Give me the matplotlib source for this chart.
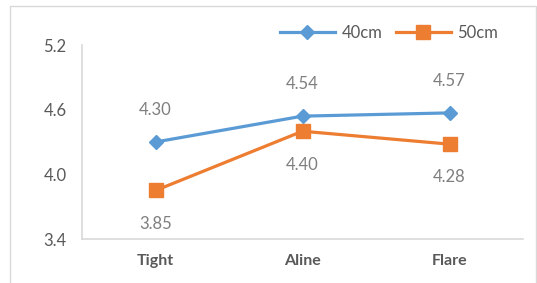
import matplotlib
matplotlib.use("Agg")
import matplotlib.pyplot as plt
from matplotlib.patches import Rectangle

categories = ["Tight", "Aline", "Flare"]
series_40 = [4.30, 4.54, 4.57]
series_50 = [3.85, 4.40, 4.28]
yticks = [3.4, 4.0, 4.6, 5.2]

plt.rcParams['font.family'] = ['Lato', 'DejaVu Sans']

W, H = 537, 283
fig = plt.figure(figsize=(W / 100, H / 100), dpi=100)
fig.patches.append(Rectangle((10 / W, -0.01), (536 - 10) / W, (H - 6) / H + 0.01,
                             transform=fig.transFigure, fill=False,
                             edgecolor="#d9d9d9", linewidth=1.0))

ax = fig.add_axes([82 / W, 44 / H, (523 - 82) / W, (239 - 45) / H])
x = range(len(categories))
blue = "#5B9BD5"
orange = "#ED7D31"
ax.plot(x, series_40, color=blue, linewidth=2.3, marker="D", markersize=7.5, label="40cm")
ax.plot(x, series_50, color=orange, linewidth=2.3, marker="s", markersize=9.5, label="50cm")

for xi, v in zip(x, series_40):
    ax.annotate(f"{v:.2f}", (xi, v), xytext=(0, 23), textcoords="offset points",
                ha="center", va="center", fontsize=12, color="#7f7f7f")
for xi, v in zip(x, series_50):
    ax.annotate(f"{v:.2f}", (xi, v), xytext=(0, -24), textcoords="offset points",
                ha="center", va="center", fontsize=12, color="#7f7f7f")

ax.set_xlim(-0.5, 2.5)
ax.set_ylim(3.4, 5.2)
ax.set_yticks(yticks)
ax.set_yticklabels([f"{t:.1f}" for t in yticks])
ax.set_xticks(list(x))
ax.set_xticklabels(categories)
ax.tick_params(axis="both", length=0, labelsize=12, colors="#595959")
ax.tick_params(axis="y", pad=11)
ax.tick_params(axis="x", pad=11)
for lab in ax.get_xticklabels():
    lab.set_fontweight("bold")
    lab.set_fontsize(11.5)
    lab.set_color("#595959")
for s in ["top", "right"]:
    ax.spines[s].set_visible(False)
for s in ["left", "bottom"]:
    ax.spines[s].set_color("#d9d9d9")
    ax.spines[s].set_linewidth(1.2)

leg = ax.legend(loc="center", bbox_to_anchor=(389 / W, (H - 33) / H),
                bbox_transform=fig.transFigure, ncol=2, frameon=False,
                fontsize=12, handlelength=3.3, columnspacing=0.8,
                handletextpad=0.4, labelcolor="#595959")

fig.savefig("out.png", dpi=100)
